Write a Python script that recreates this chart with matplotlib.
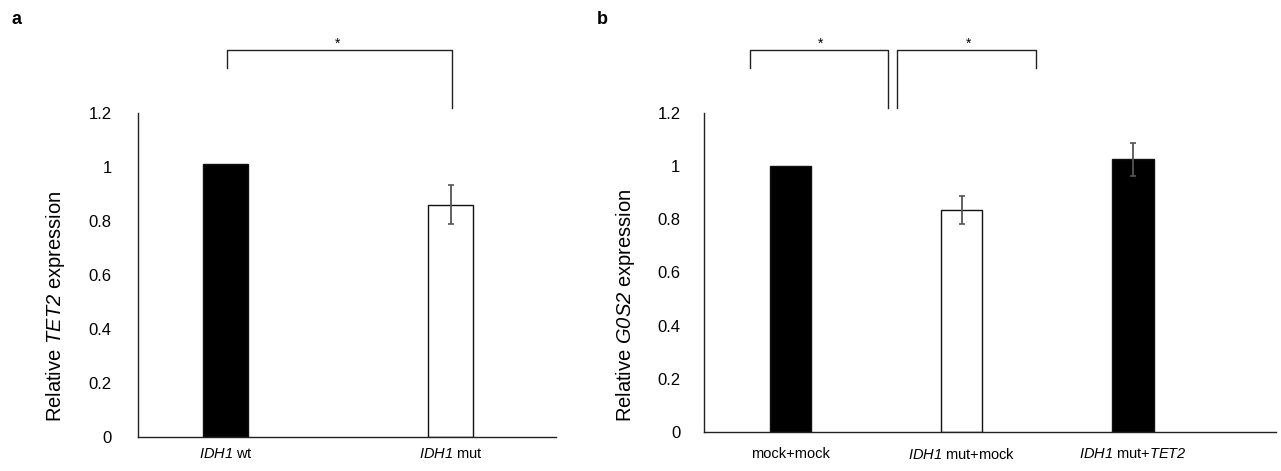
import matplotlib.pyplot as plt
from matplotlib.lines import Line2D

plt.rcParams['font.family'] = 'Liberation Sans'
plt.rcParams['mathtext.fontset'] = 'custom'
plt.rcParams['mathtext.rm'] = 'Liberation Sans'
# \mathsf is used for italic gene names so the digits stay italic too
plt.rcParams['mathtext.sf'] = 'Liberation Sans:italic'

# panel a data
a_labels = [r'$\mathsf{IDH1}$ wt', r'$\mathsf{IDH1}$ mut']
a_values = [1.01, 0.86]
a_errors = [0, 0.072]
a_colors = ['black', 'white']

# panel b data
b_labels = ['mock+mock', r'$\mathsf{IDH1}$ mut+mock', r'$\mathsf{IDH1}$ mut+$\mathsf{TET2}$']
b_values = [1.0, 0.835, 1.026]
b_errors = [0, 0.051, 0.062]
b_colors = ['black', 'white', 'black']

yticks = [0, 0.2, 0.4, 0.6, 0.8, 1, 1.2]
ytick_labels = ['0', '0.2', '0.4', '0.6', '0.8', '1', '1.2']

W, H = 1281, 471
fig = plt.figure(figsize=(W / 100, H / 100), dpi=100)


def px_axes(x0, x1, y0, y1):
    # pixel box -> figure fraction
    return fig.add_axes([x0 / W, 1 - y1 / H, (x1 - x0) / W, (y1 - y0) / H])


def draw_panel(ax, labels, values, errors, colors, width, xlim, ylabel, lab_y, ypad, xpad):
    x = range(len(values))
    ax.bar(x, values, width, color=colors, edgecolor='#111111', linewidth=1.0, zorder=2)
    for xi, v, e in zip(x, values, errors):
        if e > 0:
            ax.errorbar(xi, v, yerr=e, fmt='none', ecolor='#555555', elinewidth=1.3,
                        capsize=2.5, capthick=1.2, zorder=3)
    ax.set_xlim(*xlim)
    ax.set_ylim(0, 1.2)
    ax.set_yticks(yticks)
    ax.set_yticklabels(ytick_labels)
    ax.set_xticks(list(x))
    ax.set_xticklabels(labels)
    ax.tick_params(axis='y', length=0, pad=ypad, labelsize=12)
    ax.tick_params(axis='x', length=0, pad=xpad, labelsize=10.5)
    for s in ['top', 'right']:
        ax.spines[s].set_visible(False)
    for s in ['left', 'bottom']:
        ax.spines[s].set_color('#222222')
        ax.spines[s].set_linewidth(1.0)
    ax.set_ylabel(ylabel, fontsize=14.5)
    ax.yaxis.set_label_coords(lab_y[0], lab_y[1])


ax_a = px_axes(138, 556, 113, 437)
draw_panel(ax_a, a_labels, a_values, a_errors, a_colors, 0.2, (-0.391, 1.467),
           r'Relative $\mathsf{TET2}$ expression', (-0.17, 0.404), 19, 7)

ax_b = px_axes(704, 1276, 113, 432)
draw_panel(ax_b, b_labels, b_values, b_errors, b_colors, 0.24, (-0.505, 2.835),
           r'Relative $\mathsf{G0S2}$ expression', (-0.118, 0.398), 17, 11)


def bracket(x0, x1, y_top, y_left, y_right, star_x):
    pts_x = [x0, x0, x1, x1]
    pts_y = [y_left, y_top, y_top, y_right]
    fig.add_artist(Line2D([p / W for p in pts_x], [1 - p / H for p in pts_y],
                          transform=fig.transFigure, color='#222222', linewidth=1.0))
    fig.text(star_x / W, 1 - 44 / H, '*', ha='center', va='center', fontsize=10)


bracket(227, 452, 50, 68, 108, 338)
bracket(750, 888, 50, 68, 108, 821)
bracket(897, 1036, 50, 108, 68, 969)

fig.text(12 / W, 1 - 19 / H, 'a', fontsize=13, fontweight='bold', va='center')
fig.text(597 / W, 1 - 19 / H, 'b', fontsize=13, fontweight='bold', va='center')

fig.savefig('out.png', dpi=100)
